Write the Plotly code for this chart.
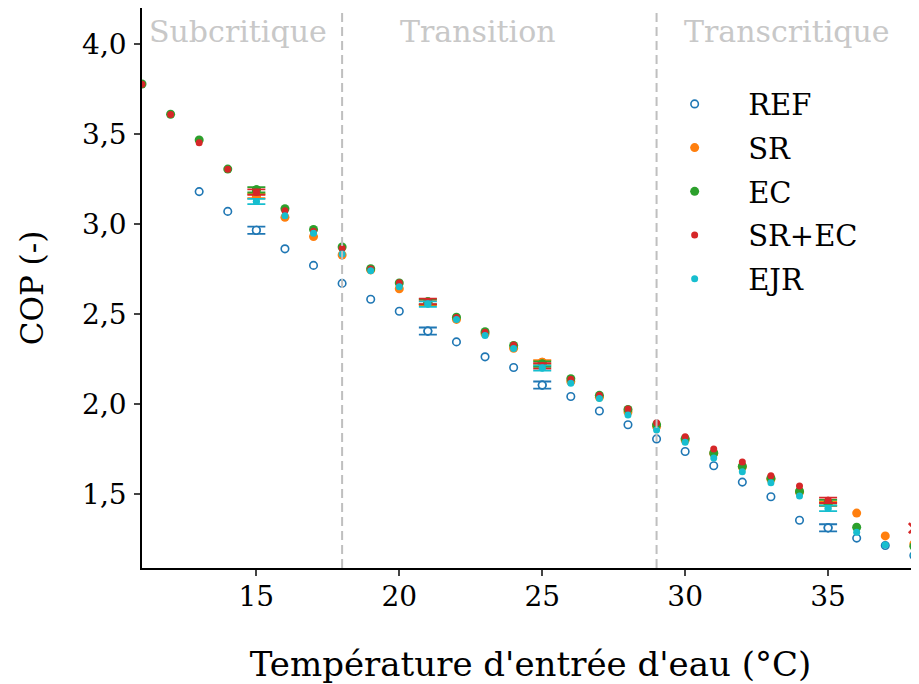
import plotly.graph_objects as go

temps = list(range(11, 39))
ref = [None, None, 3.18, 3.07, 2.965, 2.862, 2.77, 2.67, 2.582, 2.515, 2.405, 2.345, 2.262, 2.203,
       2.105, 2.042, 1.961, 1.885, 1.806, 1.736, 1.657, 1.566, 1.485, 1.354, 1.312, 1.255, 1.214, 1.158]
sr = [None, None, None, None, 3.155, 3.037, 2.93, 2.828, 2.745, 2.64, 2.562, 2.47, 2.39, 2.31,
      2.232, 2.125, 2.038, 1.955, 1.875, 1.8, 1.725, 1.65, 1.582, 1.51, 1.445, 1.394, 1.267, 1.222]
ec = [3.778, 3.61, 3.467, 3.305, 3.19, 3.085, 2.97, 2.872, 2.752, 2.672, 2.568, 2.482, 2.402, 2.325,
      2.222, 2.14, 2.048, 1.97, 1.885, 1.808, 1.728, 1.654, 1.588, 1.515, 1.452, 1.315, None, 1.21]
srec = [3.776, 3.608, 3.452, 3.304, 3.177, 3.073, 2.96, 2.865, 2.75, 2.674, 2.57, 2.48, 2.398, 2.328,
        2.212, 2.137, 2.048, 1.972, 1.896, 1.818, 1.75, 1.678, 1.602, 1.544, 1.465, None, None, 1.31]
srec_symbol = ["o"] * 27 + ["x"]
ejr = [None, None, None, None, 3.125, 3.046, 2.948, 2.833, 2.74, 2.652, 2.555, 2.47, 2.38, 2.309,
       2.20, 2.115, 2.031, 1.939, 1.856, 1.787, 1.70, 1.624, 1.563, 1.489, 1.42, 1.288, 1.217, 1.161]

err_temps = [15, 21, 25, 35]
err_ref = [0.02, 0.02, 0.02, 0.02]
err_sr = [0.012, 0.012, 0.012, 0.012]
err_ec = [0.015, 0.015, 0.015, 0.015]
err_srec = [0.015, 0.015, 0.015, 0.015]
err_ejr = [0.015, 0.015, 0.015, 0.015]

regions = ["Subcritique", "Transition", "Transcritique"]
region_x = [14.35, 22.75, 33.55]
boundaries = [18, 29]

C_REF, C_SR, C_EC, C_SREC, C_EJR = "#1f77b4", "#ff7f0e", "#2ca02c", "#d62728", "#17becf"
FONT = "DejaVu Serif"

fig = go.Figure()

series = [
    ("REF", ref, err_ref, C_REF, True, 7.5),
    ("SR", sr, err_sr, C_SR, False, 9),
    ("EC", ec, err_ec, C_EC, False, 9),
    ("SR+EC", srec, err_srec, C_SREC, False, 7),
    ("EJR", ejr, err_ejr, C_EJR, False, 7),
]

for name, vals, errs, col, hollow, size in series:
    xs, ys = [], []
    for t, v in zip(temps, vals):
        if v is None:
            continue
        if name == "SR+EC" and srec_symbol[temps.index(t)] != "o":
            continue
        xs.append(t)
        ys.append(v)
    if hollow:
        marker = dict(size=size, color="white", line=dict(color=col, width=1.6), symbol="circle")
    else:
        marker = dict(size=size, color=col, line=dict(width=0), symbol="circle")
    fig.add_trace(go.Scatter(x=xs, y=ys, mode="markers", name=name, marker=marker,
                             legendgroup=name))
    ex = err_temps
    ey = [vals[temps.index(t)] for t in err_temps]
    fig.add_trace(go.Scatter(x=ex, y=ey, mode="markers", showlegend=False, legendgroup=name,
                             marker=marker,
                             error_y=dict(type="data", array=errs, visible=True, color=col,
                                          thickness=1.8, width=9)))
    if name == "SR+EC":
        xx = [t for t, s in zip(temps, srec_symbol) if s == "x"]
        yy = [vals[temps.index(t)] for t in xx]
        fig.add_trace(go.Scatter(x=xx, y=yy, mode="markers", showlegend=False,
                                 marker=dict(symbol="x-thin", size=10, line=dict(color=col, width=2.6))))

for b in boundaries:
    fig.add_vline(x=b, line=dict(color="#bfbfbf", width=2, dash="9px,5px"))

for txt, xp in zip(regions, region_x):
    fig.add_annotation(x=xp, y=4.068, xref="x", yref="y", text=txt, showarrow=False,
                       font=dict(family=FONT, size=30, color="#c8c8c8"))

# the page body adds an 8px margin, so the figure is 8px smaller and shifted
fig.update_layout(
    width=911, height=676,
    margin=dict(l=133.5, r=0, t=0, b=116),
    plot_bgcolor="white", paper_bgcolor="white",
    separators=", ",
    font=dict(family=FONT, size=28, color="black"),
    showlegend=True,
    legend=dict(x=0.6424, y=0.874, xanchor="left", yanchor="top", bgcolor="rgba(0,0,0,0)",
                font=dict(family=FONT, size=29), itemwidth=97, tracegroupgap=3),
)
fig.update_xaxes(range=[11, 38.18], tickvals=[15, 20, 25, 30, 35], ticks="outside", ticklen=6,
                 tickwidth=1.5, showline=True, linecolor="black", linewidth=1.5, mirror=True,
                 showgrid=False, zeroline=False, tickfont=dict(size=28), automargin=False,
                 ticklabelstandoff=-3,
                 title=dict(text="Température d'entrée d'eau (°C)", font=dict(size=34), standoff=47))
fig.update_yaxes(range=[1.0889, 4.2], tickvals=[1.5, 2.0, 2.5, 3.0, 3.5, 4.0], tickformat=".1f",
                 ticks="outside", ticklen=6, tickwidth=1.5, showline=True, linecolor="black",
                 linewidth=1.5, mirror=False, showgrid=False, zeroline=False, tickfont=dict(size=28),
                 automargin=False, ticklabelstandoff=2,
                 title=dict(text="COP (-)", font=dict(size=31), standoff=29))

fig.write_html("out.html")
